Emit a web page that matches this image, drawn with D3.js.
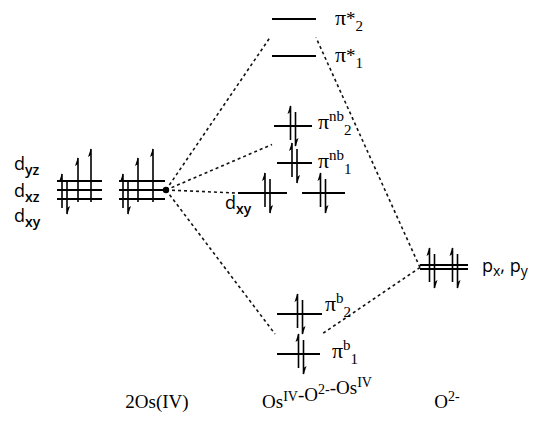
<!DOCTYPE html>
<html>
<head>
<meta charset="utf-8">
<script src="https://cdn.jsdelivr.net/npm/d3@7"></script>
<style>
  body { margin:0; background:#fff; }
  svg { display:block; }
</style>
</head>
<body>
<div id="chart"></div>
<script>
// orbital energies (arbitrary units, up = higher energy)
const osLevels = [
  { id:"os1_dxy", col:"os1", E:181 },
  { id:"os1_dxz", col:"os1", E:190 },
  { id:"os1_dyz", col:"os1", E:199 },
  { id:"os2_dxy", col:"os2", E:181 },
  { id:"os2_dxz", col:"os2", E:190 },
  { id:"os2_dyz", col:"os2", E:199 },
];
const moLevels = [
  { id:"pistar2", col:"mo",  group:"pistar", E:361 },
  { id:"pistar1", col:"mo",  group:"pistar", E:324 },
  { id:"pinb2",   col:"mo",  group:"pinb",   E:254 },
  { id:"pinb1",   col:"mo",  group:"pinb",   E:217 },
  { id:"dxyA",    col:"moA", group:"dxy",    E:187 },
  { id:"dxyB",    col:"moB", group:"dxy",    E:187 },
  { id:"pib2",    col:"mo",  group:"pib",    E:66 },
  { id:"pib1",    col:"mo",  group:"pib",    E:26 },
];
const oLevels = [
  { id:"py", col:"o", E:115 },
  { id:"px", col:"o", E:111 },
];
// electron count per orbital
const electrons = [
  { level:"os1_dxy", n:2 }, { level:"os1_dxz", n:1 }, { level:"os1_dyz", n:1 },
  { level:"os2_dxy", n:2 }, { level:"os2_dxz", n:1 }, { level:"os2_dyz", n:1 },
  { level:"pinb2", n:2 }, { level:"pinb1", n:2 },
  { level:"dxyA", n:2 },  { level:"dxyB", n:2 },
  { level:"pib2", n:2 },  { level:"pib1", n:2 },
  { level:"px", n:2 },    { level:"py", n:2 },
];
// correlation lines: fragment -> MO group
const links = [
  { from:"os", to:"pistar" }, { from:"os", to:"pinb" },
  { from:"os", to:"dxy" },    { from:"os", to:"pib" },
  { from:"o",  to:"pistar" }, { from:"o",  to:"pib" },
];
const dLabels  = [ { level:"os1_dyz", sub:"yz" }, { level:"os1_dxz", sub:"xz" }, { level:"os1_dxy", sub:"xy" } ];
const piLabels = [
  { level:"pistar2", sup:"*",  sub:"2" }, { level:"pistar1", sup:"*",  sub:"1" },
  { level:"pinb2",   sup:"nb", sub:"2" }, { level:"pinb1",   sup:"nb", sub:"1" },
  { level:"pib2",    sup:"b",  sub:"2" }, { level:"pib1",    sup:"b",  sub:"1" },
];
const colTitles = [
  { col:"os",  parts:[["2Os(IV)",""]] },
  { col:"mo",  parts:[["Os","IV"],["-O","2-"],["-Os","IV"]] },
  { col:"o",   parts:[["O","2-"]] },
];

// ---- layout ----
const W = 534, H = 439;
const y = d3.scaleLinear().domain([0, 380]).range([380, 0]);

// horizontal spans of each level line
const span = {
  os1:[57,102], os2:[119,165], moA:[238,287], moB:[302,345], o:[420,468],
  pistar2:[272,316], pistar1:[272,316], pinb2:[274,312], pinb1:[277,312],
  pib2:[277,322], pib1:[277,320]
};
const spanOf = d => span[d.id] || span[d.col];
// electron x position for each level
const ex = {
  os1_dxy:64.5, os1_dxz:78, os1_dyz:91,
  os2_dxy:125.5, os2_dxz:138, os2_dyz:153,
  pinb2:293, pinb1:294.5, dxyA:267.5, dxyB:323, pib2:300, pib1:301,
  px:432, py:455
};

const svg = d3.select("#chart").append("svg")
  .attr("width", W).attr("height", H)
  .style("font-family", "'Liberation Serif', 'Times New Roman', serif");
svg.append("rect").attr("width", W).attr("height", H).attr("fill", "#fff");

const allLevels = [...osLevels, ...moLevels, ...oLevels];
const byId = new Map(allLevels.map(d => [d.id, d]));

// dashed correlation lines
function endPoint(key, side) {
  if (key === "os") return [span.os2[1] + 1, y(byId.get("os2_dxz").E)];
  if (key === "o")  return [span.o[0], y(d3.mean(oLevels, d => d.E)) + 0.5];
  const g = moLevels.filter(d => d.group === key);
  const yy = y(d3.mean(g, d => d.E));
  return side === "left" ? [d3.min(g, d => spanOf(d)[0]) - 2, yy]
                         : [d3.max(g, d => spanOf(d)[1]), yy];
}
svg.append("g").selectAll("line").data(links).join("line")
  .each(function(d) {
    const a = endPoint(d.from);
    const b = endPoint(d.to, d.from === "os" ? "left" : "right");
    d3.select(this).attr("x1", a[0]).attr("y1", a[1]).attr("x2", b[0]).attr("y2", b[1]);
  })
  .attr("stroke", "#111").attr("stroke-width", 1.6).attr("stroke-dasharray", "3,3");

// level lines
svg.append("g").selectAll("line").data(allLevels).join("line")
  .attr("x1", d => spanOf(d)[0]).attr("x2", d => spanOf(d)[1])
  .attr("y1", d => y(d.E)).attr("y2", d => y(d.E))
  .attr("stroke", "#000").attr("stroke-width", 2.2);

svg.append("circle")
  .attr("cx", endPoint("os")[0]).attr("cy", endPoint("os")[1]).attr("r", 3.2).attr("fill", "#000");

// electrons as half-headed arrows
const arrows = [];
electrons.forEach(e => {
  const lv = byId.get(e.level);
  const x = ex[e.level];
  let yc = y(lv.E);
  if (lv.col === "os1" || lv.col === "os2") {
    const base = y(byId.get(lv.col + "_dxy").E);
    if (e.n === 1) { arrows.push({ x, top:y(lv.E) - 32, bot:base + 3, up:true }); return; }
    yc = base - 5;
  }
  if (lv.col === "o") yc = y(d3.mean(oLevels, d => d.E)) + 1;
  arrows.push({ x:x - 2.5, top:yc - 20, bot:yc + 14, up:true });
  arrows.push({ x:x + 2.5, top:yc - 14, bot:yc + 20, up:false });
});
const ag = svg.append("g");
ag.selectAll("line").data(arrows).join("line")
  .attr("x1", d => d.x).attr("x2", d => d.x).attr("y1", d => d.top).attr("y2", d => d.bot)
  .attr("stroke", "#000").attr("stroke-width", 1.6);
ag.selectAll("path").data(arrows).join("path")
  .attr("d", d => d.up
    ? `M${d.x},${d.top - 1}L${d.x - 3},${d.top + 8}L${d.x},${d.top + 6}Z`
    : `M${d.x},${d.bot + 1}L${d.x + 3},${d.bot - 8}L${d.x},${d.bot - 6}Z`)
  .attr("fill", "#000");

// d labels on the left
const dOff = { os1_dyz:-11, os1_dxz:7, os1_dxy:23 };
const dl = svg.append("g").style("font-family", "'Open Sans', 'Liberation Sans', sans-serif");
function dText(x, yy, sub) {
  const t = dl.append("text").attr("x", x).attr("y", yy).attr("font-size", 18).attr("fill", "#000");
  t.append("tspan").text("d");
  t.append("tspan").attr("dy", 5).attr("font-size", 14).attr("font-weight", 600).text(sub);
}
dLabels.forEach(l => dText(14, y(byId.get(l.level).E) + dOff[l.level], l.sub));
dText(225, y(byId.get("dxyA").E) + 16, "xy");
// p labels
{
  const t = dl.append("text").attr("x", 482).attr("y", y(d3.mean(oLevels, d => d.E)) + 5)
    .attr("font-size", 18).attr("fill", "#000");
  t.append("tspan").text("p");
  t.append("tspan").attr("dy", 4).attr("font-size", 14).text("x");
  t.append("tspan").attr("dy", -4).text(", p");
  t.append("tspan").attr("dy", 4).attr("font-size", 14).text("y");
}

// pi labels
const piPos = {
  pistar2:[335,6], pistar1:[335,6], pinb2:[318,3], pinb1:[318,5], pib2:[325,-3], pib1:[332,4]
};
piLabels.forEach(l => {
  const [lx, dy] = piPos[l.level];
  const t = svg.append("text").attr("x", lx).attr("y", y(byId.get(l.level).E) + dy)
    .attr("font-size", 22).attr("fill", "#000");
  t.append("tspan").text("π");
  if (l.sup === "*") t.append("tspan").attr("font-size", 19).text("*");
  else t.append("tspan").attr("dy", -8).attr("font-size", 15).text(l.sup);
  t.append("tspan").attr("dy", l.sup === "*" ? 6 : 14).attr("font-size", 15).text(l.sub);
});

// column titles
const titleX = { os:157, mo:317, o:447 };
colTitles.forEach(c => {
  const t = svg.append("text").attr("x", titleX[c.col]).attr("y", 408)
    .attr("text-anchor", "middle").attr("font-size", 19).attr("fill", "#000");
  c.parts.forEach(([txt, sup]) => {
    t.append("tspan").text(txt);
    if (sup) {
      t.append("tspan").attr("dy", -7).attr("font-size", 14).text(sup);
      t.append("tspan").attr("dy", 7).text("");
    }
  });
});
</script>
</body>
</html>
